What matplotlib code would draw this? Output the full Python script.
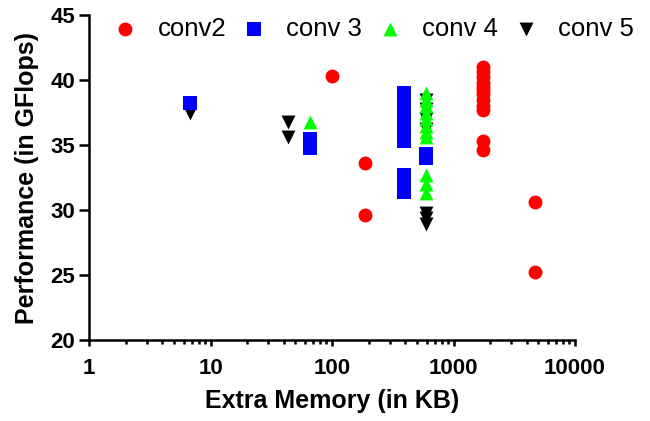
import matplotlib
matplotlib.use('Agg')
import matplotlib.pyplot as plt
from matplotlib.ticker import LogLocator, FixedLocator, NullFormatter

plt.rcParams['font.family'] = ['Liberation Sans', 'DejaVu Sans']

# conv2
conv2_mem = [100, 187, 187, 1750, 1750, 1750, 1750, 1750, 1750, 1750, 1750, 1750, 1750, 1750, 1750, 4730, 4730]
conv2_perf = [40.3, 33.6, 29.6, 41.0, 40.6, 40.2, 39.8, 39.5, 39.2, 38.9, 38.5, 38.0, 37.7, 35.3, 34.6, 30.6, 25.2]

# conv 3
conv3_mem = [6.8, 65.7, 65.7, 395, 395, 395, 395, 395, 395, 395, 395, 395, 395, 395, 591, 591]
conv3_perf = [38.2, 35.5, 34.8, 39.0, 38.5, 37.9, 37.3, 36.9, 36.4, 35.3, 32.7, 32.2, 31.8, 31.4, 34.3, 34.0]

# conv 4
conv4_mem = [65.7, 591, 591, 591, 591, 591, 591, 591, 591, 591, 591, 591]
conv4_perf = [36.8, 39.0, 38.5, 38.0, 37.5, 37.0, 36.5, 36.0, 35.6, 32.7, 32.0, 31.3]

# conv 5
conv5_mem = [6.8, 43.8, 43.8, 591, 591, 591, 591, 591, 591, 591]
conv5_perf = [37.5, 36.8, 35.6, 38.5, 37.8, 37.0, 36.2, 29.8, 29.4, 28.9]

fig = plt.figure(figsize=(6.5, 4.21), dpi=100)
ax = fig.add_axes([89 / 650, 1 - 340 / 421, (575 - 89) / 650, (340 - 15) / 421])

ms = 100
ax.scatter(conv2_mem, conv2_perf, s=ms, marker='o', color='#ff0000', linewidths=0, label='conv2', zorder=6)
ax.scatter(conv3_mem, conv3_perf, s=ms, marker='s', color='#0000ff', linewidths=0, label='conv 3', zorder=5)
ax.scatter(conv4_mem, conv4_perf, s=ms, marker='^', color='#00ff00', linewidths=0, label='conv 4', zorder=4)
ax.scatter(conv5_mem, conv5_perf, s=ms, marker='v', color='#000000', linewidths=0, label='conv 5', zorder=3)

ax.set_xscale('log')
ax.set_xlim(1, 10000)
ax.set_ylim(20, 45)
ax.set_yticks([20, 25, 30, 35, 40, 45])
ax.xaxis.set_major_locator(FixedLocator([1, 10, 100, 1000, 10000]))
ax.xaxis.set_minor_locator(LogLocator(base=10, subs=range(2, 10)))
ax.xaxis.set_minor_formatter(NullFormatter())
ax.set_xticklabels(['1', '10', '100', '1000', '10000'])

for s in ['top', 'right']:
    ax.spines[s].set_visible(False)
for s in ['left', 'bottom']:
    ax.spines[s].set_linewidth(1.8)

ax.tick_params(axis='x', which='major', direction='out', length=4, width=1.8, pad=9, labelsize=16)
ax.tick_params(axis='x', which='minor', direction='out', length=3, width=1.8)
ax.tick_params(axis='y', which='major', direction='out', length=7, width=1.8, pad=3, labelsize=16)
for lab in ax.get_xticklabels() + ax.get_yticklabels():
    lab.set_fontweight('bold')

ax.set_xlabel('Extra Memory (in KB)', fontsize=18, fontweight='bold', labelpad=7)
ax.set_ylabel('Performance (in GFlops)', fontsize=18, fontweight='bold', labelpad=8)

ax.legend(loc='center left', bbox_to_anchor=(112 / 650, 1 - 29 / 421), bbox_transform=fig.transFigure,
          ncol=4, frameon=False, fontsize=18.5, handlelength=1.0, handletextpad=0.78,
          columnspacing=0.56, borderpad=0, borderaxespad=0, scatterpoints=1)

fig.savefig('out.png', dpi=100)
